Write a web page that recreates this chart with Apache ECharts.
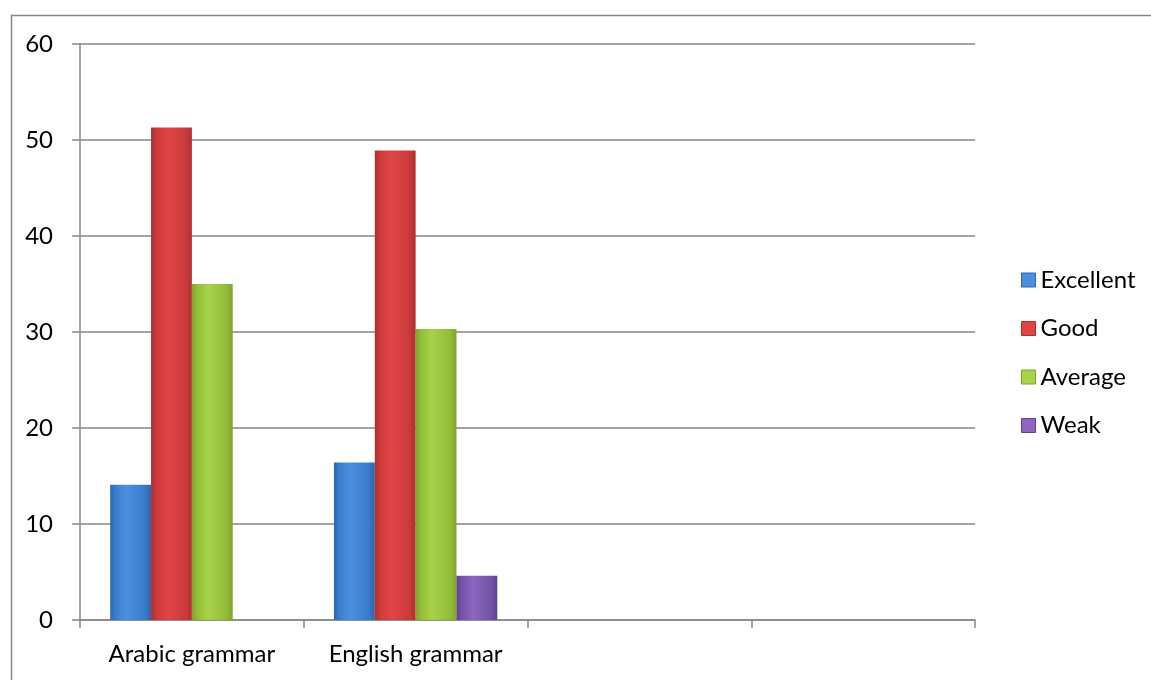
<!DOCTYPE html>
<html>
<head>
<meta charset="utf-8">
<script src="https://cdn.jsdelivr.net/npm/echarts@6/dist/echarts.min.js"></script>
<style>
html,body{margin:0;padding:0;background:#fff;}
#chart{width:1151px;height:680px;}
</style>
</head>
<body>
<div id="chart"></div>
<script>
const categories = ['Arabic grammar', 'English grammar', '', ''];
const seriesNames = ['Excellent', 'Good', 'Average', 'Weak'];
const excellent = [14.1, 16.4, null, null];
const good = [51.3, 48.9, null, null];
const average = [35.0, 30.3, null, null];
const weak = [0, 4.6, null, null];
const yTicks = [0, 10, 20, 30, 40, 50, 60];

const palette = [
  ['#2d65ad', '#4a8fe0', '#3a7ccb'],
  ['#b02e2e', '#e04545', '#c93a3a'],
  ['#7fa42a', '#a9d24a', '#92bb38'],
  ['#5f4290', '#8c66bf', '#7252a6']
];
function grad(p) {
  return new echarts.graphic.LinearGradient(0, 0, 1, 0, [
    {offset: 0, color: p[0]},
    {offset: 0.12, color: p[2]},
    {offset: 0.4, color: p[1]},
    {offset: 0.85, color: p[2]},
    {offset: 1, color: p[0]}
  ]);
}
const values = [excellent, good, average, weak];
const FONT = 'Lato';
const FS = 24;
const chart = echarts.init(document.getElementById('chart'), null, {renderer: 'canvas'});
chart.setOption({
  animation: false,
  backgroundColor: '#ffffff',
  textStyle: {fontFamily: FONT},
  graphic: [{
    type: 'rect',
    shape: {x: 11.5, y: 15.5, width: 1200, height: 700},
    style: {fill: 'none', stroke: '#868686', lineWidth: 1.5},
    silent: true
  }],
  grid: {left: 80, right: 176, top: 44, bottom: 60, containLabel: false},
  legend: {
    orient: 'vertical',
    left: 1016,
    top: 263,
    itemWidth: 14,
    itemHeight: 14,
    itemGap: 24.5,
    icon: 'rect',
    textStyle: {fontFamily: FONT, fontSize: FS, color: '#000', lineHeight: 24},
    data: seriesNames
  },
  xAxis: {
    type: 'category',
    data: categories,
    boundaryGap: true,
    axisLine: {lineStyle: {color: '#868686', width: 1.5}},
    axisTick: {show: true, length: 8, alignWithLabel: false, lineStyle: {color: '#868686', width: 1.5}},
    axisLabel: {fontFamily: FONT, fontSize: FS, color: '#000', margin: 22, interval: 0},
    splitLine: {show: false}
  },
  yAxis: {
    type: 'value',
    min: yTicks[0],
    max: yTicks[yTicks.length - 1],
    interval: 10,
    axisLine: {show: true, lineStyle: {color: '#868686', width: 1.5}},
    axisTick: {show: true, length: 8, lineStyle: {color: '#868686', width: 1.5}},
    axisLabel: {fontFamily: FONT, fontSize: FS, color: '#000', margin: 27},
    splitLine: {show: true, lineStyle: {color: '#868686', width: 1.5}}
  },
  series: seriesNames.map((n, i) => ({
    name: n,
    type: 'bar',
    data: values[i],
    barGap: '0%',
    barCategoryGap: '27%',
    itemStyle: {color: grad(palette[i]), shadowColor: 'rgba(0,0,0,0.12)', shadowBlur: 6},
    emphasis: {disabled: true}
  }))
});
chart.setOption({legend: {data: seriesNames.map((n, i) => ({name: n, itemStyle: {color: palette[i][1], borderColor: palette[i][0], borderWidth: 1}}))}});
</script>
</body>
</html>
